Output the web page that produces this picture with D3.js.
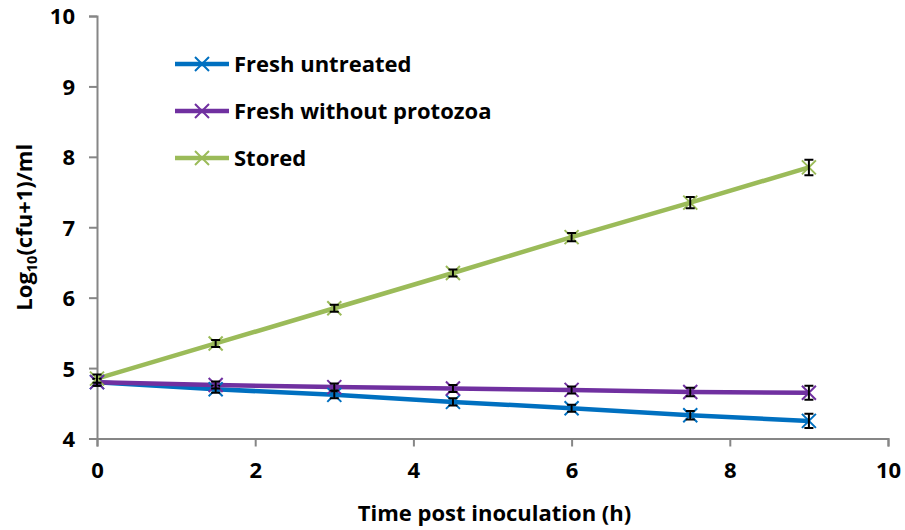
<!DOCTYPE html>
<html>
<head>
<meta charset="utf-8">
<script src="https://cdn.jsdelivr.net/npm/d3@7"></script>
<style>
  html, body { margin: 0; padding: 0; background: #fff; }
  svg { display: block; font-family: "Open Sans", Lato, sans-serif; font-weight: bold; }
</style>
</head>
<body>
<svg id="chart" width="905" height="530"></svg>
<script>
// Sampling times (h)
const times = [0, 1.5, 3, 4.5, 6, 7.5, 9];

// Log10(cfu+1)/ml per treatment
const freshUntreated = [4.80, 4.70, 4.62, 4.52, 4.43, 4.33, 4.25];
const freshNoProtozoa = [4.80, 4.76, 4.73, 4.71, 4.69, 4.66, 4.65];
const stored = [4.85, 5.35, 5.85, 6.35, 6.86, 7.35, 7.85];

// Standard errors
const errUntreated = [0.05, 0.05, 0.05, 0.05, 0.05, 0.06, 0.10];
const errNoProtozoa = [0.05, 0.05, 0.05, 0.05, 0.05, 0.06, 0.10];
const errStored = [0.06, 0.05, 0.05, 0.05, 0.06, 0.08, 0.11];

const seriesNames = ["Fresh untreated", "Fresh without protozoa", "Stored"];
const seriesColors = ["#0070C0", "#7030A0", "#9BBB59"];

const xTicks = [0, 2, 4, 6, 8, 10];
const yTicks = [4, 5, 6, 7, 8, 9, 10];

const series = [
  { name: seriesNames[0], color: seriesColors[0], values: freshUntreated, errs: errUntreated },
  { name: seriesNames[1], color: seriesColors[1], values: freshNoProtozoa, errs: errNoProtozoa },
  { name: seriesNames[2], color: seriesColors[2], values: stored, errs: errStored }
];

const svg = d3.select("#chart");
const x = d3.scaleLinear().domain([0, 10]).range([97, 888]);
const y = d3.scaleLinear().domain([4, 10]).range([438.5, 16]);

// Axes
const xAxis = svg.append("g").attr("transform", `translate(0,${y(4)})`)
  .call(d3.axisBottom(x).tickValues(xTicks).tickSize(8).tickPadding(16).tickFormat(d3.format("d")));
const yAxis = svg.append("g").attr("transform", `translate(${x(0)},0)`)
  .call(d3.axisLeft(y).tickValues(yTicks).tickSize(8).tickPadding(14).tickFormat(d3.format("d")));
[xAxis, yAxis].forEach(g => {
  g.select(".domain").attr("stroke", "#868686").attr("stroke-width", 2);
  g.selectAll(".tick line").attr("stroke", "#868686").attr("stroke-width", 2);
  g.selectAll(".tick text").attr("fill", "#000").style("font-size", "22px")
    .style("font-family", "'Open Sans', Lato, sans-serif").style("font-weight", "bold");
});
yAxis.selectAll(".tick text").attr("dy", "0.36em");

// Axis titles
svg.append("text").attr("x", (x(0) + x(10)) / 2 + 2).attr("y", 521)
  .attr("text-anchor", "middle").style("font-size", "22px").text("Time post inoculation (h)");
const yt = svg.append("text").attr("transform", `translate(32,${y(7)}) rotate(-90)`)
  .attr("text-anchor", "middle").style("font-size", "22px");
yt.append("tspan").text("Log");
yt.append("tspan").attr("dy", 5).style("font-size", "14.5px").text("10");
yt.append("tspan").attr("dy", -5).text("(cfu+1)/ml");

const line = d3.line().x((d, i) => x(times[i])).y(d => y(d));
const mk = 7;
function cross(g, cx, cy, color) {
  g.append("path")
    .attr("d", `M${cx - mk},${cy - mk}L${cx + mk},${cy + mk}M${cx - mk},${cy + mk}L${cx + mk},${cy - mk}`)
    .attr("stroke", color).attr("stroke-width", 2).attr("fill", "none");
}

// Series lines, then markers and error bars
series.forEach(s => {
  svg.append("path").datum(s.values).attr("d", line)
    .attr("fill", "none").attr("stroke", s.color).attr("stroke-width", 4.5);
});
series.forEach(s => {
  const g = svg.append("g");
  s.values.forEach((v, i) => {
    const cx = x(times[i]);
    cross(g, cx, y(v), s.color);
    const y1 = y(v + s.errs[i]), y2 = y(v - s.errs[i]);
    g.append("path")
      .attr("d", `M${cx},${y1}L${cx},${y2}M${cx - 4.5},${y1}L${cx + 4.5},${y1}M${cx - 4.5},${y2}L${cx + 4.5},${y2}`)
      .attr("stroke", "#000").attr("stroke-width", 2).attr("fill", "none");
  });
});

// Legend
const legend = svg.append("g");
series.forEach((s, i) => {
  const ly = 64 + i * 47;
  legend.append("line").attr("x1", 175).attr("x2", 229).attr("y1", ly).attr("y2", ly)
    .attr("stroke", s.color).attr("stroke-width", 4.5);
  cross(legend, 202, ly, s.color);
  legend.append("text").attr("x", 234).attr("y", ly).attr("dy", "0.35em")
    .style("font-size", "22px").text(s.name);
});
</script>
</body>
</html>
